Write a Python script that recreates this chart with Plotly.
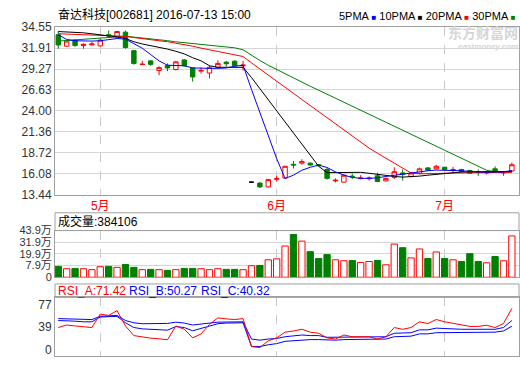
import plotly.graph_objects as go

# ---------------- data ----------------
DATES = [
    "2016-04-25", "2016-04-26", "2016-04-27", "2016-04-28", "2016-04-29",
    "2016-05-03", "2016-05-04", "2016-05-05", "2016-05-06", "2016-05-09", "2016-05-10",
    "2016-05-11", "2016-05-12", "2016-05-13", "2016-05-16", "2016-05-17", "2016-05-18",
    "2016-05-19", "2016-05-20", "2016-05-23", "2016-05-24", "2016-05-25", "2016-05-26",
    "2016-05-27", "2016-05-30", "2016-05-31",
    "2016-06-01", "2016-06-02", "2016-06-03", "2016-06-06", "2016-06-07", "2016-06-08",
    "2016-06-13", "2016-06-14", "2016-06-15", "2016-06-16", "2016-06-17", "2016-06-20",
    "2016-06-21", "2016-06-22", "2016-06-23", "2016-06-24", "2016-06-27", "2016-06-28",
    "2016-06-29", "2016-06-30",
    "2016-07-01", "2016-07-04", "2016-07-05", "2016-07-06", "2016-07-07", "2016-07-08",
    "2016-07-11", "2016-07-12", "2016-07-13",
]

OPEN = [33.60, 32.15, 32.92, 32.23, 32.31, 32.19, 33.60, 33.32, 33.92, 31.59, 29.84,
        30.30, 29.09, 29.73, 29.21, 30.42, 29.41, 29.01, 28.77, 29.49, 30.14, 30.26,
        29.69, 15.00, 14.88, 14.40, 15.36, 15.52, 17.24, 17.40, 17.40, 17.20, 16.60,
        15.16, 15.00, 15.76, 15.44, 15.44, 15.80, 15.16, 15.60, 16.16, 15.72, 16.12,
        16.80, 16.68, 16.88, 16.48, 16.60, 16.48, 16.32, 16.16, 16.68, 16.16, 16.40]
HIGH = [34.00, 32.85, 33.00, 32.51, 32.72, 33.12, 34.13, 34.08, 34.13, 31.59, 30.30,
        30.38, 29.61, 29.98, 30.26, 30.54, 29.45, 29.49, 29.69, 30.38, 30.30, 30.38,
        30.30, 15.08, 15.00, 15.40, 15.80, 17.08, 17.68, 17.88, 17.48, 17.30, 16.80,
        15.48, 15.96, 16.08, 15.88, 15.72, 16.20, 15.56, 16.88, 16.60, 16.28, 16.84,
        16.88, 17.20, 16.96, 16.92, 16.68, 16.56, 16.60, 16.36, 17.00, 16.36, 17.48]
LOW = [31.83, 32.10, 32.10, 31.83, 32.23, 32.15, 33.28, 33.24, 31.83, 29.82, 29.82,
       29.67, 28.48, 29.01, 29.09, 29.57, 27.68, 28.69, 28.08, 29.45, 29.57, 29.61,
       29.09, 14.92, 14.28, 14.32, 15.08, 15.48, 16.72, 17.20, 17.08, 17.00, 15.32,
       14.96, 14.96, 15.40, 15.36, 15.20, 15.00, 15.10, 15.40, 15.20, 15.60, 16.00,
       16.40, 16.60, 16.52, 16.20, 16.28, 16.08, 15.80, 15.96, 16.20, 15.80, 16.28]
CLOSE = [32.31, 32.80, 32.23, 32.39, 32.43, 32.92, 33.44, 34.00, 31.99, 29.98, 29.88,
         29.86, 29.45, 29.41, 30.18, 29.69, 28.28, 29.09, 29.49, 29.98, 29.94, 29.69,
         29.77, 15.00, 14.40, 15.32, 15.44, 17.00, 17.16, 17.60, 17.16, 17.08, 15.48,
         15.24, 15.88, 15.68, 15.52, 15.52, 15.08, 15.48, 16.32, 16.00, 16.16, 16.68,
         16.52, 17.00, 16.60, 16.60, 16.32, 16.12, 16.24, 16.24, 16.28, 16.24, 17.20]

MA5 = [33.60, 33.00, 32.84, 32.80, 32.80, 32.84, 33.00, 33.12, 33.05, 32.50, 31.90,
       31.10, 30.30, 29.75, 29.70, 29.68, 29.41, 29.36, 29.36, 29.36, 29.40, 29.62,
       29.75, 26.70, 23.77, 20.86, 17.98, 15.46, 15.88, 16.50, 16.88, 17.15, 16.85,
       16.30, 15.88, 15.60, 15.48, 15.48, 15.54, 15.72, 15.88, 16.00, 16.16, 16.36,
       16.44, 16.52, 16.52, 16.52, 16.44, 16.36, 16.28, 16.24, 16.28, 16.28, 16.48]
MA10 = [34.00, 33.96, 33.92, 33.84, 33.72, 33.60, 33.52, 33.32, 33.12, 32.72, 32.43,
        32.23, 31.99, 31.79, 31.51, 31.18, 30.70, 30.30, 29.69, 29.49, 29.49, 29.49,
        29.49, 28.20, 26.80, 25.42, 24.05, 22.64, 21.23, 19.82, 18.41, 17.00, 16.20,
        16.20, 16.24, 16.28, 16.24, 16.12, 15.96, 15.80, 15.72, 15.64, 15.68, 15.76,
        15.88, 16.00, 16.10, 16.20, 16.28, 16.30, 16.32, 16.36, 16.36, 16.36, 16.36]
MA20 = [33.72, 33.68, 33.64, 33.60, 33.60, 33.56, 33.52, 33.48, 33.40, 33.24, 33.08,
        32.96, 32.84, 32.72, 32.55, 32.39, 32.15, 31.91, 31.70, 31.50, 31.30, 31.10,
        30.85, 30.05, 29.26, 28.50, 27.73, 26.96, 26.20, 25.43, 24.66, 23.90, 23.13,
        22.36, 21.60, 20.83, 20.06, 19.30, 18.65, 18.00, 17.35, 16.70, 16.15, 16.05,
        16.05, 16.10, 16.12, 16.15, 16.18, 16.20, 16.20, 16.20, 16.22, 16.22, 16.25]
MA30 = [32.80, 32.88, 32.96, 33.04, 33.12, 33.24, 33.32, 33.40, 33.40, 33.30, 33.20,
        33.10, 33.00, 32.85, 32.70, 32.60, 32.45, 32.35, 32.25, 32.15, 32.05, 31.95,
        31.70, 31.00, 30.35, 29.75, 29.20, 28.65, 28.10, 27.60, 27.10, 26.60, 26.10,
        25.60, 25.10, 24.60, 24.10, 23.60, 23.10, 22.60, 22.10, 21.60, 21.10, 20.60,
        20.10, 19.60, 19.10, 18.60, 18.10, 17.60, 17.05, 16.50, 16.30, 16.25, 16.25]

# volume in 万 (10k shares); the pane's floor (labelled "0") sits at VOL_FLOOR
VOLUME = [7.05, 4.64, 4.97, 4.64, 3.66, 6.72, 7.05, 6.06, 9.02, 6.06, 3.66, 3.99,
          3.66, 3.00, 3.66, 4.97, 4.97, 4.64, 3.66, 4.64, 3.99, 3.99, 3.66, 7.70,
          8.03, 13.83, 14.81, 28.03, 39.84, 33.06, 22.24, 15.14, 19.18, 13.83, 12.84,
          13.17, 11.09, 12.08, 13.17, 8.69, 30.00, 26.29, 15.79, 24.97, 15.14, 21.91,
          15.14, 13.83, 12.08, 20.16, 12.08, 10.76, 17.21, 12.84, 38.4106]
VOL_FLOOR = -4.1

RSI_A = [38.0, 42.4, 40.8, 39.1, 38.0, 61.4, 59.2, 67.5, 40.8, 24.0, 21.2, 19.5, 18.4,
         16.7, 40.8, 35.2, 20.1, 26.8, 43.6, 54.8, 53.1, 52.0, 53.6, 5.0, 3.0, 15.0,
         20.0, 30.0, 32.0, 35.0, 30.0, 28.0, 20.0, 18.0, 25.0, 22.0, 22.0, 22.0, 18.0,
         22.0, 38.0, 35.0, 38.0, 48.0, 45.0, 52.0, 48.0, 45.0, 42.0, 40.0, 40.0, 42.0,
         38.0, 45.0, 71.42]
RSI_B = [53.6, 53.0, 51.9, 51.9, 51.9, 57.5, 58.5, 59.1, 50.2, 46.3, 44.7, 44.7, 44.7,
         45.2, 47.4, 45.8, 42.4, 43.6, 45.8, 47.4, 47.4, 47.4, 48.0, 18.0, 16.0, 18.0,
         19.0, 22.0, 23.0, 25.0, 24.0, 24.0, 21.0, 21.0, 22.0, 22.0, 22.0, 22.0, 21.0,
         22.0, 28.0, 28.0, 29.0, 34.0, 34.0, 37.0, 36.0, 36.0, 35.0, 35.0, 35.0, 36.0,
         35.0, 38.0, 50.27]
RSI_C = [50.2, 50.2, 49.1, 48.0, 48.0, 56.4, 56.4, 57.5, 46.3, 38.0, 35.7, 35.2, 34.1,
         33.5, 39.7, 38.0, 32.4, 36.3, 40.8, 44.7, 45.8, 45.8, 46.3, 5.0, 5.0, 8.0,
         10.0, 14.0, 15.0, 17.0, 17.0, 17.0, 16.0, 16.0, 17.0, 17.0, 17.0, 17.0, 17.0,
         18.0, 22.0, 22.0, 23.0, 27.0, 27.0, 29.0, 29.0, 29.0, 29.0, 29.0, 29.0, 30.0,
         30.0, 32.0, 40.32]

PRICE_TICKS = [34.55, 31.91, 29.27, 26.63, 24.00, 21.36, 18.72, 16.08, 13.44]
VOL_TICKS = [VOL_FLOOR, 7.9, 19.9, 31.9, 43.9]
VOL_TICK_TEXT = ["0", "7.9万", "19.9万", "31.9万", "43.9万"]
RSI_TICKS = [0, 39, 77]
MONTH_TICKS = ["2016-05-03", "2016-06-01", "2016-07-01"]
MONTH_LABELS = ["5月", "6月", "7月"]
TITLE = "奋达科技[002681] 2016-07-13 15:00"

# ---------------- styling ----------------
W, H = 520, 365
FONT = "Liberation Sans, Arial, Noto Sans CJK SC, sans-serif"
RED, GREEN, BLUE, BLACK = "#ff0000", "#008000", "#0000ff", "#000000"
FRAME = "#a0a0a0"
GRID = "#d6d6d6"
VGRID = "#c8c8c8"


def fx(px):
    return px / W


def fy(py):
    return 1 - py / H


X_DOM = [fx(55), fx(519)]
X_RANGE = [-0.39, 54.85]

fig = go.Figure()

up_idx = [i for i in range(len(DATES)) if CLOSE[i] > OPEN[i]]
dn_idx = [i for i in range(len(DATES)) if CLOSE[i] < OPEN[i]]
fl_idx = [i for i in range(len(DATES)) if CLOSE[i] == OPEN[i]]


def candle(idx, inc_line, inc_fill, dec_line, dec_fill):
    return go.Candlestick(
        x=[DATES[i] for i in idx],
        open=[OPEN[i] for i in idx], high=[HIGH[i] for i in idx],
        low=[LOW[i] for i in idx], close=[CLOSE[i] for i in idx],
        increasing=dict(line=dict(color=inc_line, width=1), fillcolor=inc_fill),
        decreasing=dict(line=dict(color=dec_line, width=1), fillcolor=dec_fill),
        whiskerwidth=0, xaxis="x", yaxis="y", hoverinfo="skip",
    )


fig.add_trace(candle(up_idx + dn_idx, RED, "#ffffff", GREEN, GREEN))
fig.add_trace(candle(fl_idx, BLACK, BLACK, BLACK, BLACK))

for ma, col in [(MA30, GREEN), (MA20, RED), (MA10, BLACK), (MA5, BLUE)]:
    fig.add_trace(go.Scatter(x=DATES, y=ma, mode="lines",
                             line=dict(color=col, width=1),
                             xaxis="x", yaxis="y", hoverinfo="skip"))

vol_up = [CLOSE[i] >= OPEN[i] for i in range(len(DATES))]
fig.add_trace(go.Bar(
    x=DATES, y=[v - VOL_FLOOR for v in VOLUME], base=VOL_FLOOR,
    xaxis="x2", yaxis="y2",
    marker=dict(color=["#ffffff" if u else GREEN for u in vol_up],
                line=dict(color=[RED if u else GREEN for u in vol_up], width=1)),
    hoverinfo="skip",
))

for r, col in [(RSI_C, BLUE), (RSI_B, BLUE), (RSI_A, RED)]:
    fig.add_trace(go.Scatter(x=DATES, y=r, mode="lines",
                             line=dict(color=col, width=1),
                             xaxis="x3", yaxis="y3", hoverinfo="skip"))

xcommon = dict(
    type="category", categoryorder="array", categoryarray=DATES,
    range=X_RANGE, domain=X_DOM, tickmode="array",
    tickvals=MONTH_TICKS, ticktext=MONTH_LABELS,
    showgrid=True, gridcolor=VGRID, griddash="dash", gridwidth=1,
    showline=True, linecolor=FRAME, linewidth=1, mirror=True,
    ticks="", zeroline=False, fixedrange=True,
)
ycommon = dict(
    showline=True, linecolor=FRAME, linewidth=1, mirror=True,
    ticks="", zeroline=False, fixedrange=True,
    tickfont=dict(size=12, color="#333333"),
)

fig.update_layout(
    width=W, height=H, margin=dict(l=0, r=0, t=0, b=0),
    paper_bgcolor="white", plot_bgcolor="white", showlegend=False,
    font=dict(family=FONT, size=12, color="#333333"),
    bargap=0.25, boxgap=0.25,
    xaxis=dict(xcommon, anchor="y", showticklabels=True,
               tickfont=dict(size=12, color=RED), rangeslider=dict(visible=False)),
    xaxis2=dict(xcommon, anchor="y2", showticklabels=False),
    xaxis3=dict(xcommon, anchor="y3", showticklabels=False),
    yaxis=dict(ycommon, domain=[fy(195), fy(21)], range=[13.44, 34.55],
               tickmode="array", tickvals=PRICE_TICKS,
               ticktext=["%.2f" % v for v in PRICE_TICKS],
               showgrid=True, gridcolor=GRID),
    yaxis2=dict(ycommon, domain=[fy(281), fy(232.5)], range=[VOL_FLOOR, 43.9],
                tickmode="array", tickvals=VOL_TICKS, ticktext=VOL_TICK_TEXT,
                tickfont=dict(size=11, color="#333333"),
                showgrid=True, gridcolor=GRID),
    yaxis3=dict(ycommon, domain=[fy(363), fy(302)], range=[-11.7, 90.5],
                tickmode="array", tickvals=RSI_TICKS,
                ticktext=[str(v) for v in RSI_TICKS], showgrid=False),
)

for top, bot in [(214, 232.5), (288, 302)]:
    fig.add_shape(type="rect", xref="paper", yref="paper",
                  x0=fx(55), x1=fx(519), y0=fy(bot), y1=fy(top),
                  line=dict(color=FRAME, width=1), fillcolor="rgba(0,0,0,0)")

legend_txt = ("5PMA <span style='color:#0000ff;font-size:8px'>■</span> "
              "10PMA <span style='color:#000000;font-size:8px'>■</span> "
              "20PMA <span style='color:#ff0000;font-size:8px'>■</span> "
              "30PMA <span style='color:#008000;font-size:8px'>■</span>")

ann = [
    dict(text=TITLE, x=fx(57), y=fy(8), xanchor="left", yanchor="middle",
         font=dict(size=12, color="#000000")),
    dict(text=legend_txt, x=fx(517), y=fy(9), xanchor="right", yanchor="middle",
         font=dict(size=11, color="#000000")),
    dict(text="<b>东方财富网</b>", x=fx(519), y=fy(27), xanchor="right", yanchor="middle",
         font=dict(size=14, color="#d6d6d6")),
    dict(text="<b><i>eastmoney.com</i></b>", x=fx(519), y=fy(41), xanchor="right",
         yanchor="middle", font=dict(size=8, color="#d6d6d6")),
    dict(text="成交量:%d" % round(VOLUME[-1] * 10000), x=fx(57), y=fy(223),
         xanchor="left", yanchor="middle", font=dict(size=12, color="#000000")),
    dict(text="RSI_A:%.2f" % RSI_A[-1], x=fx(57), y=fy(295), xanchor="left",
         yanchor="middle", font=dict(size=12, color=RED)),
    dict(text="RSI_B:%.2f" % RSI_B[-1], x=fx(128), y=fy(295), xanchor="left",
         yanchor="middle", font=dict(size=12, color=BLUE)),
    dict(text="RSI_C:%.2f" % RSI_C[-1], x=fx(200), y=fy(295), xanchor="left",
         yanchor="middle", font=dict(size=12, color=BLUE)),
]
for a in ann:
    fig.add_annotation(xref="paper", yref="paper", showarrow=False, borderpad=0, **a)

fig.write_html("out.html")
